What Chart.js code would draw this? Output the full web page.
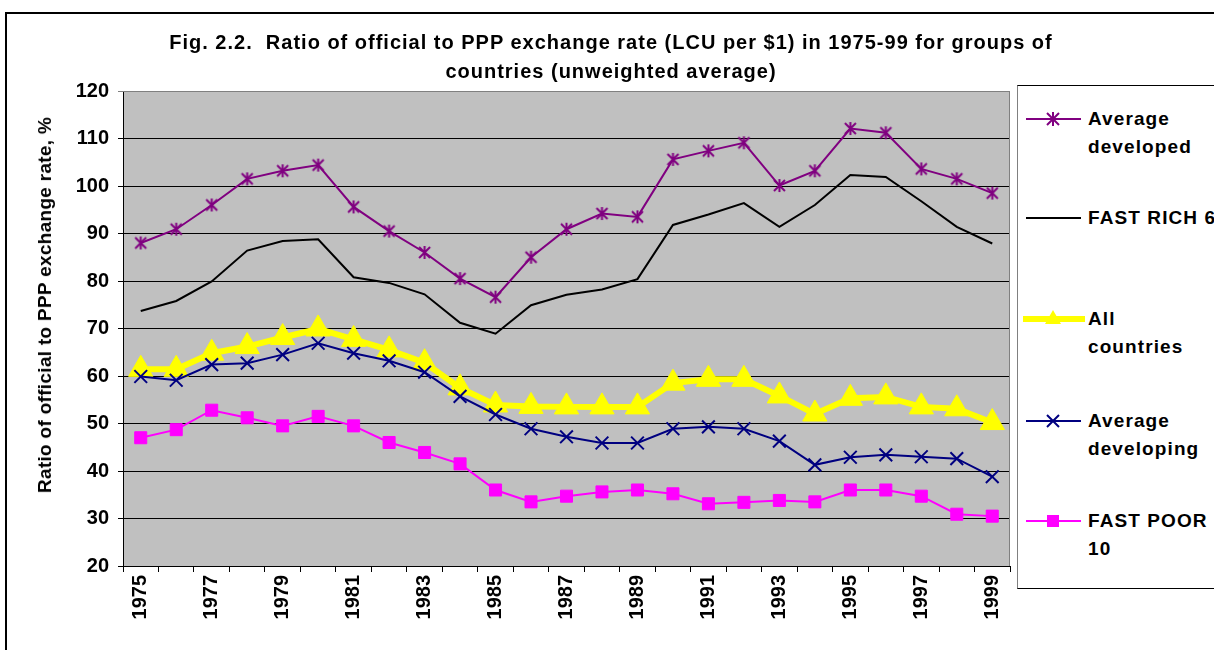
<!DOCTYPE html>
<html>
<head>
<meta charset="utf-8">
<script src="https://cdn.jsdelivr.net/npm/chart.js@4"></script>
<style>
  html, body { margin: 0; padding: 0; background: #fff; }
  body { width: 1214px; height: 650px; overflow: hidden; position: relative; font-family: Arial, "Liberation Sans", sans-serif; }
  #frame { position: absolute; left: 5px; top: 12px; width: 1300px; height: 700px; border: 2px solid #000; }
  #chartBox { position: absolute; left: 0; top: 0; width: 1214px; height: 650px; }
  #titulo { position: absolute; left: 111px; top: 28px; width: 1000px; text-align: center; font-weight: bold; font-size: 20px; letter-spacing: 1px; line-height: 29px; color: #000; }
  #ytitulo { position: absolute; left: 45px; top: 305px; transform: translate(-50%, -50%) rotate(-90deg); white-space: nowrap; font-weight: bold; font-size: 19px; letter-spacing: 0.3px; color: #000; }
  #legenda { position: absolute; left: 1017px; top: 85px; width: 260px; height: 502px; border: 1px solid #000; border-left-color: #808080; background: #fff; }
  .item { position: absolute; left: 0; }
  .item svg { position: absolute; left: 5px; top: 0; }
  .item span { position: absolute; left: 70px; top: 0; font-weight: bold; font-size: 19px; letter-spacing: 1.1px; line-height: 28px; white-space: nowrap; color: #000; }
</style>
</head>
<body>
<div id="frame"></div>
<div id="chartBox"><canvas id="grafico"></canvas></div>
<div id="titulo">Fig. 2.2.&nbsp; Ratio of official to PPP exchange rate (LCU per $1) in 1975-99 for groups of<br>countries (unweighted average)</div>
<div id="ytitulo">Ratio of official to PPP exchange rate, %</div>
<div id="legenda"></div>

<script>
// ===== Dados =====
const anos = ['1975', '1976', '1977', '1978', '1979', '1980', '1981', '1982', '1983', '1984',
  '1985', '1986', '1987', '1988', '1989', '1990', '1991', '1992', '1993', '1994',
  '1995', '1996', '1997', '1998', '1999'];

const mediaDesenvolvidos = [88, 90.9, 96, 101.5, 103.2, 104.4, 95.6, 90.5, 86, 80.5,
  76.6, 85, 90.9, 94.2, 93.5, 105.6, 107.4, 109.1, 100.1, 103.2,
  112.1, 111.2, 103.6, 101.5, 98.5];

const fastRich6 = [73.7, 75.8, 79.9, 86.4, 88.4, 88.8, 80.8, 79.6, 77.2, 71.2,
  68.9, 74.9, 77.1, 78.2, 80.4, 91.8, 94, 96.4, 91.4, 96,
  102.3, 101.9, 96.8, 91.4, 87.9];

const todosPaises = [61.4, 61.4, 64.8, 66.2, 68.1, 69.9, 67.7, 65.5, 62.8, 57.5,
  53.9, 53.6, 53.5, 53.5, 53.5, 58.5, 59.3, 59.3, 55.8, 52,
  55.3, 55.6, 53.5, 53.1, 50.2];

const mediaEmDesenvolvimento = [59.9, 59.1, 62.4, 62.7, 64.5, 66.9, 64.8, 63.2, 60.8, 55.7,
  51.9, 48.9, 47.2, 45.9, 45.9, 48.9, 49.3, 48.9, 46.3, 41.3,
  42.9, 43.4, 43, 42.6, 38.8];

const fastPoor10 = [47, 48.7, 52.8, 51.2, 49.5, 51.5, 49.5, 46, 43.9, 41.5,
  36, 33.5, 34.7, 35.6, 36, 35.2, 33.1, 33.4, 33.8, 33.5,
  36, 36, 34.7, 30.9, 30.5];

const ticksY = [20, 30, 40, 50, 60, 70, 80, 90, 100, 110, 120];

const FONTE = 'Arial, "Liberation Sans", sans-serif';

// marcador asterisco (estilo Excel)
function criarEstrela(cor, tam) {
  const c = document.createElement('canvas');
  c.width = tam; c.height = tam;
  const g = c.getContext('2d');
  g.strokeStyle = cor;
  g.lineWidth = 2;
  const m = tam / 2;
  g.beginPath();
  g.moveTo(m, 1); g.lineTo(m, tam - 1);
  g.moveTo(2, 2); g.lineTo(tam - 2, tam - 2);
  g.moveTo(tam - 2, 2); g.lineTo(2, tam - 2);
  g.stroke();
  return c;
}

// fundo cinza da área de plotagem
const fundoPlot = {
  id: 'fundoPlot',
  beforeDraw(chart) {
    const { ctx, chartArea: a } = chart;
    ctx.save();
    ctx.fillStyle = '#C0C0C0';
    ctx.fillRect(a.left, a.top, a.right - a.left, a.bottom - a.top);
    ctx.restore();
  },
  beforeDatasetsDraw(chart) {
    const { ctx, chartArea: a } = chart;
    ctx.save();
    ctx.strokeStyle = '#808080';
    ctx.lineWidth = 1;
    ctx.beginPath();
    ctx.moveTo(a.left, a.top + 0.5);
    ctx.lineTo(a.right - 0.5, a.top + 0.5);
    ctx.lineTo(a.right - 0.5, a.bottom);
    ctx.stroke();
    ctx.restore();
  }
};

const series = [
  { label: 'Average developed', data: mediaDesenvolvidos, cor: '#800080', largura: 2,
    pointStyle: criarEstrela('#800080', 15), radius: 7, order: 5 },
  { label: 'FAST RICH 6', data: fastRich6, cor: '#000000', largura: 2,
    pointStyle: 'circle', radius: 0, order: 4 },
  { label: 'All countries', data: todosPaises, cor: '#FFFF00', largura: 6,
    pointStyle: 'triangle', radius: 14, order: 3 },
  { label: 'Average developing', data: mediaEmDesenvolvimento, cor: '#000080', largura: 2,
    pointStyle: 'crossRot', radius: 9, order: 2 },
  { label: 'FAST POOR 10', data: fastPoor10, cor: '#FF00FF', largura: 2,
    pointStyle: 'rect', radius: 8.5, order: 1 }
];

new Chart(document.getElementById('grafico'), {
  type: 'line',
  data: {
    labels: anos,
    datasets: series.map(s => ({
      label: s.label,
      data: s.data,
      borderColor: s.cor,
      backgroundColor: s.cor,
      borderWidth: s.largura,
      pointStyle: s.pointStyle,
      pointRadius: s.radius,
      pointBorderColor: s.cor,
      pointBackgroundColor: s.cor,
      pointBorderWidth: s.pointStyle === 'crossRot' ? 2 : 1,
      tension: 0,
      fill: false,
      order: s.order
    }))
  },
  options: {
    responsive: true,
    maintainAspectRatio: false,
    animation: false,
    layout: { padding: { top: 91, right: 204, left: 0, bottom: 0 } },
    plugins: {
      legend: { display: false },
      title: { display: false },
      tooltip: { enabled: false }
    },
    scales: {
      x: {
        offset: true,
        grid: { offset: true, drawOnChartArea: false, tickLength: 6, color: '#000' },
        border: { color: '#000', width: 1 },
        ticks: {
          autoSkip: false,
          minRotation: 90,
          maxRotation: 90,
          padding: 3,
          color: '#000',
          font: { family: FONTE, size: 20, weight: 'bold' },
          callback: function (v, i) { return i % 2 === 0 ? this.getLabelForValue(v) : ''; }
        },
        afterFit: s => { s.height = 84; }
      },
      y: {
        min: ticksY[0],
        max: ticksY[ticksY.length - 1],
        afterBuildTicks: s => { s.ticks = ticksY.map(v => ({ value: v })); },
        grid: {
          tickLength: 5,
          color: ctx => (ctx.tick && ctx.tick.value === 120 ? '#808080' : '#000')
        },
        border: { color: '#000', width: 1 },
        ticks: {
          padding: 9,
          color: '#000',
          font: { family: FONTE, size: 20, weight: 'bold' }
        },
        afterFit: s => { s.width = 123; }
      }
    }
  },
  plugins: [fundoPlot]
});

// ===== Legenda em HTML =====
const itensLegenda = [
  { y: 104, texto: 'Average<br>developed', s: 0 },
  { y: 203, texto: 'FAST RICH 6', s: 1 },
  { y: 304, texto: 'All<br>countries', s: 2 },
  { y: 406, texto: 'Average<br>developing', s: 3 },
  { y: 506, texto: 'FAST POOR<br>10', s: 4 }
];

function amostraSVG(i) {
  const s = series[i];
  const c = s.cor;
  let marca = '';
  if (i === 0) marca = `<path d="M30 7V21M24 8L36 20M36 8L24 20" stroke="${c}" stroke-width="2"/>`;
  if (i === 2) marca = `<polygon points="30,5 38,19 22,19" fill="${c}"/>`;
  if (i === 3) marca = `<path d="M24 8L36 20M36 8L24 20" stroke="${c}" stroke-width="2"/>`;
  if (i === 4) marca = `<rect x="24" y="8" width="12" height="12" fill="${c}"/>`;
  const x1 = i === 2 ? 1 : 3, x2 = i === 2 ? 61 : 58;
  return `<svg width="62" height="28"><line x1="${x1}" y1="14" x2="${x2}" y2="14" stroke="${c}" stroke-width="${s.largura}" stroke-linecap="${i === 2 ? 'round' : 'butt'}"/>${marca}</svg>`;
}

const leg = document.getElementById('legenda');
itensLegenda.forEach(it => {
  const d = document.createElement('div');
  d.className = 'item';
  d.style.top = (it.y - 85) + 'px';
  d.innerHTML = amostraSVG(it.s) + `<span>${it.texto}</span>`;
  leg.appendChild(d);
});
</script>
</body>
</html>
